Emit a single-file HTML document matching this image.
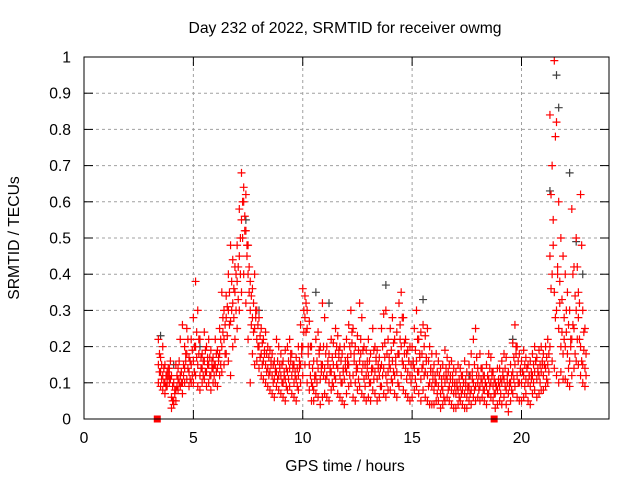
<!DOCTYPE html>
<html><head><meta charset="utf-8"><style>
html,body{margin:0;padding:0;background:#fff}
svg{display:block;font-family:"Liberation Sans",sans-serif}
</style></head><body>
<svg id="chart" width="640" height="480" viewBox="0 0 640 480" xmlns="http://www.w3.org/2000/svg">
<text x="345" y="33" font-size="15.7" text-anchor="middle">Day 232 of 2022, SRMTID for receiver owmg</text>
<text x="345" y="471" font-size="15.7" text-anchor="middle">GPS time / hours</text>
<text transform="translate(19,238) rotate(-90)" font-size="15.7" text-anchor="middle">SRMTID / TECUs</text>
<g id="grid"></g>
<g id="ticks"></g>
<g id="marks"></g>
<rect x="84" y="57" width="525" height="362" fill="none" stroke="#000" stroke-width="1"/>
</svg>
<script>
const xTicks=[0,5,10,15,20];
const yTicks=[0,0.1,0.2,0.3,0.4,0.5,0.6,0.7,0.8,0.9,1];
const yTickLabels=["0","0.1","0.2","0.3","0.4","0.5","0.6","0.7","0.8","0.9","1"];
const startTime=3.4, stepTime=0.1;
const seriesA=[.15,.13,.12,.10,.11,.12,
.06,.05,.08,.11,.12,.10,.14,.18,.13,.15,
.16,.20,.15,.12,.14,.16,.13,.15,.12,.14,
.15,.14,.18,.20,.22,.28,.30,.27,.32,.35,
.38,.45,.55,.60,.52,.40,.30,.28,.25,.22,
.20,.18,.16,.15,.14,.13,.12,.11,.13,.12,
.12,.10,.11,.13,.14,.12,.10,.11,.12,.15,
.20,.28,.25,.15,.10,.08,.12,.14,.11,.15,
.14,.12,.10,.13,.15,.18,.14,.12,.10,.11,
.13,.15,.18,.12,.10,.14,.16,.13,.11,.12,
.12,.10,.14,.13,.11,.12,.15,.14,.12,.13,
.14,.16,.12,.13,.18,.20,.15,.14,.13,.12,
.12,.14,.16,.13,.11,.15,.13,.12,.10,.09,
.08,.10,.09,.07,.08,.10,.11,.09,.08,.07,
.07,.08,.09,.08,.07,.06,.09,.08,.10,.09,
.10,.09,.10,.08,.09,.11,.10,.09,.07,.08,
.09,.10,.11,.08,.07,.10,.13,.15,.12,.10,
.10,.12,.11,.10,.09,.12,.13,.11,.12,.13,
.12,.14,.15,.45,.40,.35,.30,.25,.20,.18,
.20,.18,.16,.22,.25,.30,.28,.20,.15,.14];
const seriesB=[.10,.09,.08,.07,.09,.10,
.03,.04,.05,.08,.09,.07,.10,.11,.09,.10,
.10,.12,.09,.08,.10,.11,.09,.10,.08,.10,
.10,.09,.12,.13,.15,.18,.16,.12,.20,.22,
.25,.30,.35,.40,.32,.22,.10,.18,.15,.16,
.14,.12,.11,.10,.09,.08,.07,.06,.09,.08,
.07,.06,.05,.08,.09,.07,.06,.05,.08,.10,
.12,.15,.10,.08,.05,.05,.07,.06,.04,.06,
.07,.06,.05,.08,.09,.11,.07,.06,.05,.04,
.07,.09,.10,.06,.05,.08,.09,.07,.06,.05,
.06,.05,.08,.07,.05,.06,.09,.07,.06,.08,
.08,.10,.07,.06,.09,.12,.08,.07,.06,.05,
.06,.08,.09,.07,.05,.08,.06,.05,.04,.04,
.04,.05,.05,.03,.04,.05,.06,.05,.04,.03,
.03,.04,.05,.04,.03,.03,.05,.04,.06,.05,
.06,.05,.06,.05,.04,.07,.06,.05,.03,.04,
.05,.04,.06,.04,.02,.05,.07,.09,.06,.05,
.05,.06,.07,.05,.04,.07,.08,.06,.07,.08,
.08,.09,.10,.20,.16,.14,.12,.10,.13,.11,
.11,.10,.09,.12,.14,.16,.15,.12,.10,.09];
const seriesC=[.22,.17,.20,.15,.13,.14,
.12,.10,.15,.14,.22,.26,.20,.25,.17,.22,
.28,.38,.30,.22,.18,.24,.20,.22,.19,.17,
.22,.19,.25,.35,.30,.34,.40,.48,.44,.42,
.48,.58,.68,.64,.62,.48,.38,.36,.40,.30,
.28,.25,.22,.24,.20,.19,.18,.16,.22,.20,
.18,.16,.19,.20,.22,.18,.15,.17,.20,.26,
.36,.34,.30,.27,.20,.16,.22,.24,.20,.32,
.28,.20,.18,.22,.21,.25,.23,.20,.18,.20,
.22,.26,.30,.25,.20,.23,.32,.28,.20,.19,
.22,.18,.25,.20,.19,.17,.25,.29,.30,.22,
.25,.28,.22,.24,.32,.35,.28,.22,.19,.20,
.20,.25,.30,.22,.24,.26,.23,.25,.20,.18,
.15,.18,.16,.14,.15,.19,.17,.15,.16,.14,
.13,.15,.14,.12,.16,.13,.15,.18,.22,.25,
.14,.18,.14,.12,.15,.18,.17,.13,.10,.14,
.14,.16,.18,.17,.13,.15,.21,.26,.20,.18,
.16,.19,.17,.15,.16,.18,.20,.17,.19,.20,
.18,.20,.22,.84,.70,.99,.82,.60,.50,.45,
.40,.35,.30,.58,.42,.50,.35,.62,.30,.25];
const seriesD=[.13,.11,.10,.09,.12,.11,
.05,.07,.09,.10,.13,.12,.16,.14,.11,.12,
.13,.17,.18,.14,.12,.13,.15,.17,.14,.12,
.13,.16,.15,.24,.26,.23,.35,.30,.28,.30,
.42,.50,.60,.56,.45,.35,.26,.24,.30,.20,
.17,.15,.18,.13,.12,.15,.10,.13,.11,.14,
.10,.13,.09,.11,.16,.14,.12,.09,.14,.18,
.24,.32,.20,.12,.09,.11,.10,.18,.13,.12,
.11,.16,.13,.10,.12,.15,.17,.10,.13,.14,
.15,.12,.21,.16,.13,.11,.18,.15,.09,.14,
.10,.13,.11,.16,.14,.09,.12,.17,.10,.15,
.11,.13,.15,.10,.22,.16,.18,.11,.16,.10,
.15,.11,.13,.18,.14,.12,.16,.09,.13,.11,
.10,.07,.12,.09,.06,.12,.08,.11,.10,.09,
.09,.06,.07,.10,.09,.08,.07,.11,.08,.12,
.08,.11,.08,.10,.07,.09,.12,.07,.09,.10,
.07,.12,.09,.10,.09,.08,.11,.18,.10,.13,
.13,.09,.14,.12,.11,.10,.16,.13,.10,.15,
.15,.11,.13,.36,.48,.28,.40,.32,.24,.22,
.24,.14,.20,.26,.18,.22,.32,.16,.19,.12];
const seriesE=[.18,.15,.14,.12,.14,.16,
.09,.08,.12,.16,.10,.15,.18,.22,.16,.19,
.20,.24,.22,.17,.16,.19,.17,.12,.16,.15,
.18,.17,.22,.28,.18,.31,.26,.38,.36,.40,
.33,.40,.50,.52,.48,.42,.34,.32,.28,.26,
.23,.21,.19,.18,.17,.16,.15,.14,.16,.15,
.15,.12,.14,.16,.18,.15,.13,.14,.16,.20,
.30,.24,.18,.20,.14,.12,.16,.19,.15,.20,
.18,.15,.14,.17,.12,.20,.19,.16,.14,.16,
.17,.20,.24,.18,.15,.19,.22,.19,.15,.16,
.16,.14,.19,.17,.15,.14,.20,.21,.18,.17,
.19,.21,.17,.18,.26,.28,.21,.18,.16,.15,
.16,.19,.22,.17,.18,.20,.17,.16,.14,.13,
.12,.13,.12,.11,.12,.14,.13,.12,.12,.10,
.10,.11,.12,.10,.11,.09,.12,.13,.15,.17,
.12,.14,.12,.10,.12,.14,.13,.11,.09,.11,
.11,.13,.14,.12,.10,.12,.17,.20,.16,.14,
.13,.15,.14,.12,.13,.15,.16,.14,.15,.16,
.15,.17,.18,.62,.55,.78,.42,.38,.33,.28,
.30,.26,.22,.40,.34,.42,.22,.48,.24,.18];
const grayTimes=[3.5,4.1,5.3,7.4,8.0,10.6,11.2,13.8,15.5,17.6,19.6,21.3,21.6,21.7,22.2,22.5,22.8];
const grayValues=[.23,.15,.20,.55,.30,.35,.32,.37,.33,.12,.22,.63,.95,.86,.68,.49,.40];
const markerTimes=[3.35,18.75];
const markerValues=[0,0];

const X0=84,X1=609,Y0=419,Y1=57,XMAX=24;
const xs=t=>X0+(X1-X0)*t/XMAX;
const ys=v=>Y0-(Y0-Y1)*v;
const NS="http://www.w3.org/2000/svg";
function mk(tag,parent,attrs){const e=document.createElementNS(NS,tag);for(const k in attrs)e.setAttribute(k,attrs[k]);parent.appendChild(e);return e;}
const grid=document.getElementById('grid'),ticks=document.getElementById('ticks'),marks=document.getElementById('marks');
yTicks.forEach((v,i)=>{
  const y=ys(v);
  if(v>0&&v<1){const g=mk('line',grid,{x1:X0,x2:X1,y1:y,y2:y,stroke:'#a0a0a0','stroke-dasharray':'3,3'});
  
  }
  mk('line',ticks,{x1:X0,x2:X0+9,y1:y,y2:y,stroke:'#000'});
  mk('line',ticks,{x1:X1,x2:X1-9,y1:y,y2:y,stroke:'#000'});
  const t=mk('text',ticks,{x:71,y:y+5.5,'font-size':15.7,'text-anchor':'end'});
  t.textContent=yTickLabels[i];
  
  
});
xTicks.forEach(v=>{
  const x=xs(v);
  if(v>0){const g=mk('line',grid,{x1:x,x2:x,y1:Y0,y2:Y1,stroke:'#a0a0a0','stroke-dasharray':'3,3'});
  
  }
  mk('line',ticks,{x1:x,x2:x,y1:Y0,y2:Y0-9,stroke:'#000'});
  mk('line',ticks,{x1:x,x2:x,y1:Y1,y2:Y1+9,stroke:'#000'});
  const t=mk('text',ticks,{x:x,y:443,'font-size':15.7,'text-anchor':'middle'});
  t.textContent=String(v);
  
  
});
function plus(t,v,color,name){
  const x=xs(t),y=ys(v);
  const p=mk('path',marks,{d:`M${x-4},${y}H${x+4}M${x},${y-4}V${y+4}`,stroke:color,'stroke-width':1.2,fill:'none'});
  
  
}
grayTimes.forEach((t,i)=>plus(t,grayValues[i],'#404040','srmtid-gray-point'));
[seriesA,seriesB,seriesC].forEach(s=>{
  s.forEach((v,i)=>plus(startTime+stepTime*i,v,'#ff0000','srmtid-point'));
});
[seriesD,seriesE].forEach(s=>{
  s.forEach((v,i)=>plus(startTime+stepTime*(i+0.5),v,'#ff0000','srmtid-point'));
});
markerTimes.forEach((t,i)=>{
  const r=mk('rect',marks,{x:xs(t)-3.5,y:ys(markerValues[i])-3.5,width:7,height:7,fill:'#ff0000'});
  
  
});
</script>
</body></html>
